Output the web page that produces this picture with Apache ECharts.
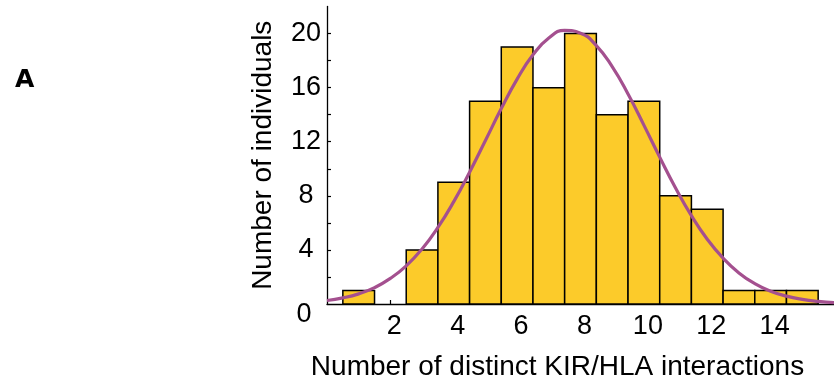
<!DOCTYPE html>
<html><head><meta charset="utf-8">
<script src="https://cdn.jsdelivr.net/npm/echarts@6/dist/echarts.min.js"></script>
<style>html,body{margin:0;padding:0;background:#fff}#c{width:834px;height:386px}</style>
</head><body><div id="c"></div>
<script>
const binCenters = [1,2,3,4,5,6,7,8,9,10,11,12,13,14,15];
const counts = [1,0,4,9,15,19,16,20,14,15,8,7,1,1,1];
const curveX = [0,0.5,1,1.5,2,2.5,3,3.5,4,4.5,5,5.5,6,6.5,7,7.5,8,8.5,9,9.5,10,10.5,11,11.5,12,12.5,13,13.5,14,14.5,15,15.5,16];
const curveY = [0.26,0.45,0.75,1.21,1.89,2.82,4.07,5.66,7.57,9.75,12.09,14.45,16.63,18.43,19.67,20.23,20.03,19.11,17.55,15.53,13.23,10.86,8.58,6.53,4.79,3.39,2.30,1.51,0.95,0.58,0.34,0.19,0.10];
const xTickValues = [1,2,3,4,5,6,7,8,9,10,11,12,13,14,15];
const xLabelValues = [2,4,6,8,10,12,14];
const yTickValues = [2,4,6,8,10,12,14,16,18,20];
const yLabelValues = [0,4,8,12,16,20];
const xTitle = 'Number of distinct KIR/HLA interactions';
const yTitle = 'Number of individuals';
const panelLabel = 'A';

const FONT = "'Liberation Sans', Arial, sans-serif";
const chart = echarts.init(document.getElementById('c'), null, {renderer: 'canvas'});
const barData = binCenters.map((x, i) => [x, counts[i]]);
const lineData = curveX.map((x, i) => [x, curveY[i]]);

chart.setOption({
  animation: false,
  backgroundColor: '#fff',
  title: {
    text: panelLabel, left: 10, top: 63,
    textStyle: {fontFamily: "'DejaVu Sans', sans-serif", fontWeight: 'bold', fontSize: 25, color: '#000'}
  },
  grid: {left: 327, right: 0, top: 6.5, bottom: 81.5},
  xAxis: {
    type: 'value', min: 0, max: 16, interval: 1,
    name: xTitle, nameLocation: 'middle', nameGap: 49,
    nameTextStyle: {fontFamily: FONT, fontSize: 28, color: '#000', padding: [0, 46, 0, 0]},
    axisLine: {show: true, lineStyle: {color: '#000', width: 1.3}},
    axisTick: {show: true, inside: true, length: 4, customValues: xTickValues, lineStyle: {color: '#000', width: 1.2}},
    axisLabel: {customValues: xLabelValues, fontFamily: FONT, fontSize: 27, color: '#000', margin: 9, padding: [0, 0, 0, 8]},
    splitLine: {show: false}
  },
  yAxis: {
    type: 'value', min: 0, max: 22, interval: 2,
    name: yTitle, nameLocation: 'middle', nameGap: 50, nameRotate: 90,
    nameTextStyle: {fontFamily: FONT, fontSize: 28, color: '#000'},
    axisLine: {show: true, lineStyle: {color: '#000', width: 1.3}},
    axisTick: {show: true, inside: true, length: 4, customValues: yTickValues, lineStyle: {color: '#000', width: 1.2}},
    axisLabel: {
      customValues: yLabelValues, fontFamily: FONT, fontSize: 27, color: '#000', margin: 21, align: 'center',
      formatter: v => v === 0 ? '{z|0}' : String(v),
      rich: {z: {fontFamily: FONT, fontSize: 27, color: '#000', padding: [21, 4, 0, 0]}}
    },
    splitLine: {show: false}
  },
  series: [
    {
      type: 'custom', z: 2,
      data: barData,
      renderItem: (params, api) => {
        const x = api.value(0), y = api.value(1);
        if (!y) return null;
        const p0 = api.coord([x - 0.5, y]);
        const p1 = api.coord([x + 0.5, 0]);
        return {
          type: 'rect',
          shape: {x: p0[0], y: p0[1], width: p1[0] - p0[0], height: p1[1] - p0[1]},
          style: {fill: '#FCCB2A', stroke: '#000', lineWidth: 1.5}
        };
      }
    },
    {
      type: 'line', z: 5, data: lineData, smooth: true, showSymbol: false, symbol: 'none',
      lineStyle: {color: '#A4508F', width: 3.2}
    }
  ]
});
</script></body></html>
